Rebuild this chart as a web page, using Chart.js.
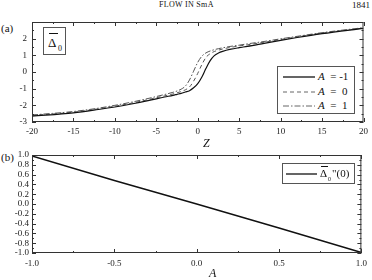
<!DOCTYPE html>
<html>
<head>
<meta charset="utf-8">
<script src="https://cdn.jsdelivr.net/npm/chart.js@4"></script>
<style>
  body { margin: 0; background: #fff; }
  #wrap { position: relative; width: 372px; height: 280px; font-family: "Liberation Serif", "Times New Roman", serif; color: #111; overflow: hidden; }
  canvas { position: absolute; left: 0; }
  .txt { position: absolute; white-space: nowrap; line-height: 1; }
  .box { position: absolute; background: #fff; border: 1px solid #555; box-sizing: border-box; }
  .row { position: absolute; left: 5px; width: 70px; height: 12px; font-size: 11px; white-space: nowrap; }
  .row svg { position: absolute; left: 0; top: 1px; }
  .row span { position: absolute; left: 35px; top: 0; white-space: nowrap; line-height: 1; }
</style>
</head>
<body>
<div id="wrap">
  <div class="txt" style="left:159px;top:1px;font-size:8px;letter-spacing:0.3px">FLOW IN SmA</div>
  <div class="txt" style="left:352px;top:1px;font-size:9px">1841</div>
  <div class="txt" style="left:1px;top:23px;font-size:11px">(a)</div>
  <div class="txt" style="left:1px;top:152px;font-size:11px">(b)</div>

  <canvas id="top" width="372" height="150" style="top:0"></canvas>
  <canvas id="bottom" width="372" height="150" style="top:130px"></canvas>

  <div class="txt" style="left:203px;top:137px;font-size:12px;font-style:italic">Z</div>
  <div class="txt" style="left:209px;top:267px;font-size:12px;font-style:italic">A</div>

  <div class="box" style="left:43px;top:27px;width:23px;height:28px">
    <div class="txt" style="left:5px;top:5px;width:9px;border-top:1px solid #111"></div>
    <div class="txt" style="left:4px;top:8px;font-size:13px">&Delta;</div>
    <div class="txt" style="left:14px;top:17px;font-size:8px">0</div>
  </div>

  <div class="box" style="left:277px;top:66px;width:78px;height:48px">
    <div class="row" style="top:4px"><svg width="32" height="10"><line x1="0" y1="5" x2="32" y2="5" stroke="#111" stroke-width="1.3"/></svg><span><i>A</i>&nbsp; = -1</span></div>
    <div class="row" style="top:19px"><svg width="32" height="10"><line x1="0" y1="5" x2="32" y2="5" stroke="#666" stroke-width="1" stroke-dasharray="4,3"/></svg><span><i>A</i>&nbsp; = &nbsp;0</span></div>
    <div class="row" style="top:33px"><svg width="32" height="10"><line x1="0" y1="5" x2="32" y2="5" stroke="#666" stroke-width="1" stroke-dasharray="6,2,1.5,2"/></svg><span><i>A</i>&nbsp; = &nbsp;1</span></div>
  </div>

  <div class="box" style="left:282px;top:163px;width:73px;height:21px">
    <svg style="position:absolute;left:3px;top:5px" width="31" height="10"><line x1="0" y1="5" x2="31" y2="5" stroke="#111" stroke-width="1.3"/></svg>
    <div class="txt" style="left:38px;top:2px;width:7px;border-top:1px solid #111"></div>
    <div class="txt" style="left:37px;top:4px;font-size:11px">&Delta;</div>
    <div class="txt" style="left:45px;top:12px;font-size:6px">0</div>
    <div class="txt" style="left:49px;top:4px;font-size:11px">"(0)</div>
  </div>
</div>

<script>
// values
const zValues = [-20, -15, -12, -10, -8, -6, -4, -3, -2.5, -2, -1.5, -1, -0.5, 0, 0.5, 1, 1.5, 2, 2.5, 3, 4, 5, 6, 8, 10, 12, 15, 20];
const deltaAm1 = [-2.65, -2.45, -2.25, -2.1, -1.92, -1.72, -1.5, -1.4, -1.34, -1.28, -1.2, -1.12, -0.95, -0.7, -0.3, 0.22, 0.68, 0.98, 1.14, 1.24, 1.37, 1.46, 1.54, 1.72, 1.9, 2.07, 2.3, 2.62];
const deltaA0 = [-2.61, -2.41, -2.21, -2.05, -1.87, -1.66, -1.43, -1.32, -1.25, -1.17, -1.07, -0.9, -0.55, -0.08, 0.45, 0.88, 1.1, 1.23, 1.31, 1.38, 1.48, 1.56, 1.63, 1.79, 1.95, 2.11, 2.33, 2.64];
const deltaA1 = [-2.58, -2.37, -2.17, -2.0, -1.81, -1.59, -1.35, -1.22, -1.14, -1.03, -0.85, -0.48, 0.05, 0.58, 0.95, 1.15, 1.26, 1.34, 1.4, 1.45, 1.54, 1.61, 1.69, 1.83, 1.99, 2.14, 2.36, 2.66];

const aValues = [-1, -0.5, 0, 0.5, 1];
const curvature = [0.98, 0.48, 0.0, -0.49, -0.99];

const tickFont = { family: "Liberation Serif", size: 9 };

// frame plus inward ticks on all four sides, from the scales' own ticks
const frameTicks = {
  id: "frameTicks",
  afterDraw(chart) {
    const { ctx, chartArea: a, scales } = chart;
    ctx.save();
    ctx.strokeStyle = "#333";
    ctx.lineWidth = 1;
    ctx.strokeRect(a.left + 0.5, a.top + 0.5, a.right - a.left - 1, a.bottom - a.top - 1);
    ctx.beginPath();
    scales.x.ticks.forEach((t) => {
      const px = Math.round(scales.x.getPixelForValue(t.value)) + 0.5;
      const len = t.label ? 4 : 2;
      ctx.moveTo(px, a.bottom); ctx.lineTo(px, a.bottom - len);
      ctx.moveTo(px, a.top); ctx.lineTo(px, a.top + len);
    });
    scales.y.ticks.forEach((t) => {
      const py = Math.round(scales.y.getPixelForValue(t.value)) + 0.5;
      const len = t.label ? 4 : 2;
      ctx.moveTo(a.left, py); ctx.lineTo(a.left + len, py);
      ctx.moveTo(a.right, py); ctx.lineTo(a.right - len, py);
    });
    ctx.stroke();
    ctx.restore();
  },
};

function isMult(v, step) {
  const r = v / step;
  return Math.abs(r - Math.round(r)) < 1e-6;
}

function axis(min, max, step, label, fit, pad) {
  return {
    type: "linear",
    min: min,
    max: max,
    grid: { display: false, drawTicks: false },
    border: { display: false },
    ticks: {
      stepSize: step,
      autoSkip: false,
      maxRotation: 0,
      padding: pad,
      color: "#222",
      font: tickFont,
      callback: label,
    },
    afterFit: fit,
  };
}

new Chart(document.getElementById("top"), {
  type: "line",
  data: {
    datasets: [
      { label: "A = -1", data: zValues.map((z, i) => ({ x: z, y: deltaAm1[i] })), borderColor: "#111", borderWidth: 1.2 },
      { label: "A = 0", data: zValues.map((z, i) => ({ x: z, y: deltaA0[i] })), borderColor: "#555", borderWidth: 1, borderDash: [4, 3] },
      { label: "A = 1", data: zValues.map((z, i) => ({ x: z, y: deltaA1[i] })), borderColor: "#555", borderWidth: 1, borderDash: [6, 2, 1.5, 2] },
    ],
  },
  options: {
    responsive: false,
    animation: false,
    events: [],
    layout: { padding: { left: 0, top: 22, right: 4, bottom: 0 } },
    elements: { point: { radius: 0 }, line: { cubicInterpolationMode: "monotone" } },
    plugins: { legend: { display: false }, tooltip: { enabled: false } },
    scales: {
      x: axis(-20, 20, 2.5, (v) => (isMult(v, 5) ? String(v) : ""), (s) => { s.height = 28; }, 4),
      y: axis(-3, 3, 0.5, (v) => (isMult(v, 1) && v !== 3 ? String(v) : ""), (s) => { s.width = 32; }, 5),
    },
  },
  plugins: [frameTicks],
});

new Chart(document.getElementById("bottom"), {
  type: "line",
  data: {
    datasets: [
      { label: "curvature", data: aValues.map((a, i) => ({ x: a, y: curvature[i] })), borderColor: "#111", borderWidth: 1.5 },
    ],
  },
  options: {
    responsive: false,
    animation: false,
    events: [],
    layout: { padding: { left: 0, top: 25, right: 4, bottom: 0 } },
    elements: { point: { radius: 0 } },
    plugins: { legend: { display: false }, tooltip: { enabled: false } },
    scales: {
      x: axis(-1, 1, 0.25, (v) => (isMult(v, 0.5) ? v.toFixed(1) : ""), (s) => { s.height = 27; }, 5),
      y: axis(-1, 1, 0.1, (v) => (isMult(v, 0.2) ? (Math.abs(v) < 1e-9 ? "0.0" : v.toFixed(1)) : ""), (s) => { s.width = 32; }, 3),
    },
  },
  plugins: [frameTicks],
});
</script>
</body>
</html>
